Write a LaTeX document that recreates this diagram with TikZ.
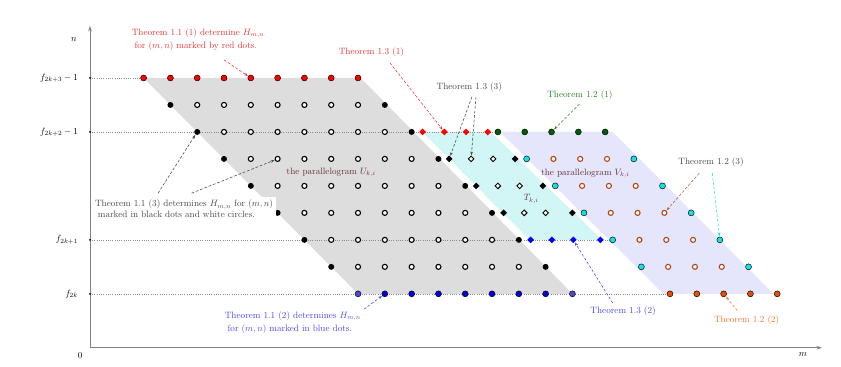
\documentclass[tikz,border=0pt]{standalone}
\usepackage{tikz}
\usetikzlibrary{arrows.meta,shapes.geometric}

\definecolor{txtred}{RGB}{235,50,50}
\definecolor{txtblue}{RGB}{70,70,250}
\definecolor{txtgreen}{RGB}{40,130,40}
\definecolor{txtorange}{RGB}{240,120,50}
\definecolor{txtgray}{RGB}{70,70,70}
\definecolor{txtpar}{RGB}{100,45,55}
\definecolor{dotgreen}{RGB}{0,95,0}
\definecolor{dotorange}{RGB}{230,80,0}
\definecolor{dotblue}{RGB}{0,0,225}
\definecolor{dotpale}{RGB}{75,75,205}
\definecolor{dotcyan}{RGB}{20,225,230}
\definecolor{ringbrown}{RGB}{180,70,20}
\definecolor{arrbrown}{RGB}{170,95,65}
\definecolor{fillU}{RGB}{221,221,221}
\definecolor{fillT}{RGB}{210,246,246}
\definecolor{fillV}{RGB}{229,229,251}

\begin{document}
\begin{tikzpicture}[x=1.027cm,y=1.034cm,>={Stealth[length=4pt,width=3pt]},
  dotfull/.style={circle,fill=#1,draw=black,line width=0.5pt,inner sep=0pt,minimum size=6.5pt},
  dotblack/.style={circle,fill=black,inner sep=0pt,minimum size=6.5pt},
  ring/.style={circle,draw=#1,fill=white,line width=1.2pt,inner sep=0pt,minimum size=5.5pt},
  ring/.default=black,
  gem/.style={diamond,fill=#1,inner sep=0pt,minimum size=7.5pt},
  gemopen/.style={diamond,draw=black,fill=white,line width=1pt,inner sep=0pt,minimum size=6.5pt},
  guide/.style={black!45,dotted,line width=0.45pt},
  pointer/.style={->,densely dashed,line width=0.6pt,shorten >=0.5pt},
  note/.style={align=left,inner sep=2pt}]
\useasboundingbox (-3.358,-0.704) rectangle (28.02,12.889);

% the three parallelograms
\fill[fillU] (2,10) -- (10.1,10) -- (18,2) -- (10,2) -- cycle;
\fill[fillT] (12.4,8) -- (14.95,8) -- (19.1,4) -- (16.4,4) -- cycle;
\fill[fillV] (15.3,8) -- (19.5,8) -- (25.5,2) -- (21.4,2) -- cycle;

% guide lines and axes
\draw[guide] (0,10) -- (2,10);
\draw[guide] (0,8) -- (15.22,8);
\draw[guide] (0,4) -- (19.5,4);
\draw[guide] (0,2) -- (21.64,2);
\coordinate (O) at (0,0);
\coordinate (xend) at (27.31,0);
\coordinate (yend) at (0,11.93);
\draw[gray,line width=1pt,-{Stealth[length=6pt,width=4pt]}] (O) -- (xend);
\draw[gray,line width=1pt,-{Stealth[length=6pt,width=4pt]}] (O) -- (yend);
\foreach \y in {10,8,4,2} \fill (0,\y) circle (1.1pt);
\node[anchor=east] (f3) at (-0.33,10) {$f_{2k+3}-1$};
\node[anchor=east] (f2) at (-0.33,8) {$f_{2k+2}-1$};
\node[anchor=east] (f1) at (-0.33,4) {$f_{2k+1}$};
\node[anchor=east] (f0) at (-0.33,2) {$f_{2k}$};
\node (axn) at (-0.6,11.41) {$n$};
\node (ax0) at (-0.37,-0.3) {$0$};
\node (axm) at (26.6,-0.26) {$m$};

% dots of U
\foreach \c in {2,...,10} \node[dotfull=red] (u8-\c) at (\c,10) {};
\foreach \r in {1,...,7} {
  \pgfmathtruncatemacro{\ca}{10-\r}
  \pgfmathtruncatemacro{\cb}{18-\r}
  \pgfmathtruncatemacro{\cs}{11-\r}
  \pgfmathtruncatemacro{\ce}{17-\r}
  \node[dotblack] (u\r-\ca) at (\ca,\r+2) {};
  \foreach \c in {\cs,...,\ce} \node[ring] (u\r-\c) at (\c,\r+2) {};
  \node[dotblack] (u\r-\cb) at (\cb,\r+2) {};
}
\node[dotfull=dotpale] (u0-10) at (10,2) {};
\foreach \c in {11,...,17} \node[dotfull=dotblue] (u0-\c) at (\c,2) {};
\node[dotfull=dotpale] (u0-18) at (18,2) {};

% diamonds of T
\foreach \j/\x in {1/12.41,2/13.22,3/14.03,4/14.84} \node[gem=red] (t6-\j) at (\x,8) {};
\foreach \r/\xa/\xb/\xc/\xd in {5/13.40/14.22/15.04/15.86,4/14.41/15.22/16.03/16.90,3/15.43/16.20/17.00/18.00} {
  \node[gem=black] (t\r-1) at (\xa,\r+2) {};
  \node[gemopen] (t\r-2) at (\xb,\r+2) {};
  \node[gemopen] (t\r-3) at (\xc,\r+2) {};
  \node[gem=black] (t\r-4) at (\xd,\r+2) {};
}
\foreach \j/\x in {1/16.44,2/17.23,3/18.03,4/19.04} \node[gem=blue] (t2-\j) at (\x,4) {};

% dots of V
\foreach \j in {0,...,4} {
  \node[dotfull=dotgreen] (v6-\j) at (15.22+\j,8) {};
  \node[dotfull=dotorange] (v0-\j) at (21.64+\j,2) {};
}
\foreach \r in {1,...,5} {
  \pgfmathsetmacro{\xs}{15.22+1.07*(6-\r)}
  \node[dotfull=dotcyan] (v\r-0) at (\xs,\r+2) {};
  \foreach \j in {1,2,3} \node[ring=ringbrown] (v\r-\j) at (\xs+\j,\r+2) {};
  \node[dotfull=dotcyan] (v\r-4) at (\xs+4,\r+2) {};
}

% labels
\node[note,text=txtred] (lab11a) at (4.03,11.43) {Theorem 1.1 (1) determine $H_{m,n}$\\[2pt]\hspace*{0.3em}for $(m,n)$ marked by red dots.};
\node[text=txtred] (lab13a) at (10.50,10.96) {Theorem 1.3 (1)};
\node[text=txtgray] (lab13c) at (14.15,9.66) {Theorem 1.3 (3)};
\node[text=txtgreen] (lab12a) at (18.28,9.37) {Theorem 1.2 (1)};
\node[text=txtgray] (lab12c) at (23.17,6.86) {Theorem 1.2 (3)};
\node[text=txtpar] (parU) at (9.0,6.51) {the parallelogram $U_{k,i}$};
\node[text=txtpar] (parV) at (18.48,6.47) {the parallelogram $V_{k,i}$};
\node[text=txtpar] (parT) at (16.46,5.51) {$T_{k,i}$};
\node[note,fill=white,text=txtgray,inner sep=3pt] (lab11c) at (3.51,5.15) {Theorem 1.1 (3) determines $H_{m,n}$ for $(m,n)$\\\hspace*{0.3em}marked in black dots and white circles\textcolor{black}{.}};
\node[note,text=txtblue] (lab11b) at (7.57,0.94) {Theorem 1.1 (2) determines $H_{m,n}$\\[2pt]\hspace*{0.3em}for $(m,n)$ marked in blue dots\textcolor{black}{.}};
\node[text=txtblue] (lab13b) at (19.89,1.37) {Theorem 1.3 (2)};
\node[text=txtorange] (lab12b) at (24.5,1.04) {Theorem 1.2 (2)};

% pointers
\coordinate (p11a) at (5.0,10.67);
\coordinate (p13a) at (11.19,10.56);
\coordinate (p13c) at (14.25,9.30);
\coordinate (q13c) at (14.40,9.30);
\coordinate (p12a) at (18.26,9.03);
\coordinate (p12c) at (22.73,6.47);
\coordinate (q12c) at (23.22,6.47);
\coordinate (p11c) at (2.54,5.73);
\coordinate (q11c) at (3.79,5.73);
\coordinate (p11b) at (10.22,1.43);
\coordinate (p13b) at (19.50,1.66);
\coordinate (p12b) at (24.15,1.38);
\draw[pointer,txtred] (p11a) -- (u8-6);
\draw[pointer,txtred] (p13a) -- (t6-2);
\draw[pointer,txtgray] (p13c) -- (t5-1);
\draw[pointer,txtgray] (q13c) -- (t5-2);
\draw[pointer,txtgreen] (p12a) -- (v6-2);
\draw[pointer,arrbrown] (p12c) -- (v3-3);
\draw[pointer,dotcyan] (q12c) -- (v2-4);
\draw[pointer,txtgray] (p11c) -- (u6-4);
\draw[pointer,txtgray] (q11c) -- (u5-7);
\draw[pointer,txtblue] (p11b) -- (u0-11);
\draw[pointer,txtblue] (p13b) -- (t2-3);
\draw[pointer,txtorange] (p12b) -- (v0-2);
\end{tikzpicture}
\end{document}
